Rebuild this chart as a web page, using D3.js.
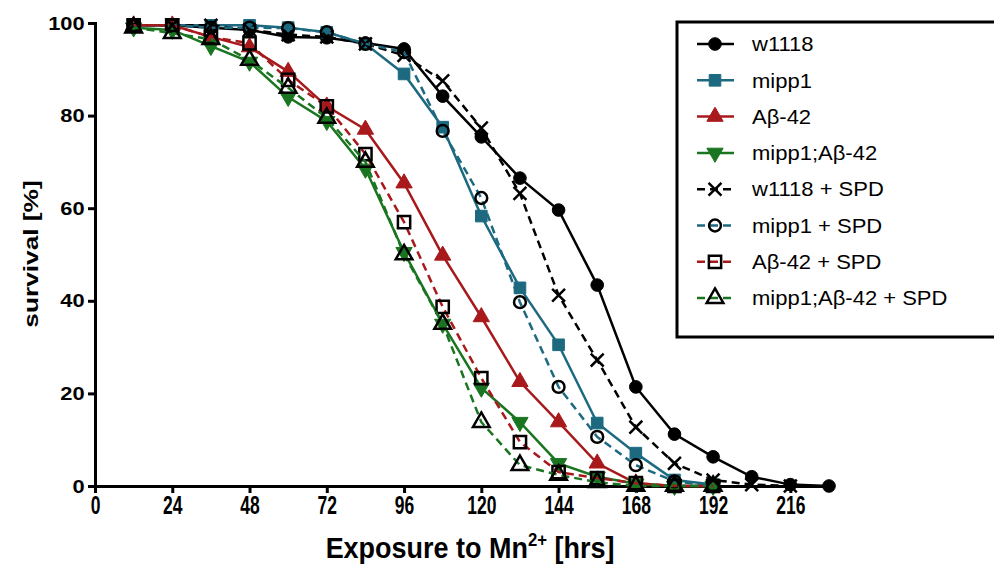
<!DOCTYPE html>
<html>
<head>
<meta charset="utf-8">
<script src="https://cdn.jsdelivr.net/npm/d3@7"></script>
<style>
  body { margin: 0; background: #fff; }
  svg { display: block; }
</style>
</head>
<body>
<div id="chart"></div>
<script>
// time points (hrs), every 12 h
const hours = [12, 24, 36, 48, 60, 72, 84, 96, 108, 120, 132, 144, 156, 168, 180, 192, 204, 216, 228];

// survival [%] per genotype
const w1118 = [99.5, 99.5, 99, 98.5, 97, 96.8, 95.7, 94.4, 84.2, 75.4, 66.5, 59.6, 43.4, 21.4, 11.2, 6.3, 2, 0.3, 0];
const mipp1 = [99.5, 99.5, 99.5, 99.5, 99, 98, 95.5, 89, 77.5, 58.3, 42.8, 30.5, 13.6, 7.1, 1.3, 0.3];
const abeta42 = [99.5, 99.5, 97, 94.8, 89.5, 82, 77, 65.4, 49.8, 36.5, 22.5, 13.8, 4.9, 0.6, 0, 0];
const mipp1Abeta42 = [99, 98.5, 95, 91.6, 84, 78.8, 68.5, 50.5, 35, 21.2, 13.8, 4.9, 2, 0.5, 0, 0];
const w1118Spd = [99.5, 99.5, 99.5, 98.5, 97.5, 97, 95.5, 93, 87.5, 77.3, 63.2, 41.2, 27.2, 12.7, 4.9, 1.3, 0.3, 0];
const mipp1Spd = [99.5, 99.5, 99, 99, 98.9, 98, 95.5, 93.7, 76.7, 62.2, 39.7, 21.4, 10.6, 4.5, 1, 0];
const abeta42Spd = [99.5, 99.5, 97, 95.6, 87.7, 82, 71.7, 57, 38.7, 23.3, 9.5, 3, 1.7, 0.6, 0, 0];
const mipp1Abeta42Spd = [99, 97.8, 96.5, 92, 86, 79.5, 70, 50, 35, 13.8, 4.5, 2.4, 0.8, 0, 0, 0];

const seriesNames = ["w1118", "mipp1", "A\u03b2-42", "mipp1;A\u03b2-42",
  "w1118 + SPD", "mipp1 + SPD", "A\u03b2-42 + SPD", "mipp1;A\u03b2-42 + SPD"];
const seriesValues = [w1118, mipp1, abeta42, mipp1Abeta42, w1118Spd, mipp1Spd, abeta42Spd, mipp1Abeta42Spd];

const xTicks = [0, 24, 48, 72, 96, 120, 144, 168, 192, 216];
const yTicks = [0, 20, 40, 60, 80, 100];

const config = {
  width: 994,
  height: 570,
};

const { width, height } = config;

const black = "#000";
const teal = "#1d6a80";
const red = "#a8191c";
const green = "#1a7520";

// style per series: line colour, dash, marker symbol, marker fill/stroke
const styles = [
  { color: black, dash: null, symbol: d3.symbolCircle, size: 125, fill: black, stroke: black },
  { color: teal, dash: null, symbol: d3.symbolSquare, size: 135, fill: teal, stroke: teal },
  { color: red, dash: null, symbol: d3.symbolTriangle, size: 115, fill: red, stroke: red },
  { color: green, dash: null, symbol: "down", size: 115, fill: green, stroke: green },
  { color: black, dash: "8,5", symbol: d3.symbolTimes, size: 110, fill: "none", stroke: black },
  { color: teal, dash: "8,5", symbol: d3.symbolCircle, size: 110, fill: "none", stroke: black },
  { color: red, dash: "8,5", symbol: d3.symbolSquare, size: 150, fill: "none", stroke: black },
  { color: green, dash: "8,5", symbol: d3.symbolTriangle, size: 120, fill: "none", stroke: black },
];

const series = seriesNames.map((name, i) => ({
  name,
  style: styles[i],
  points: seriesValues[i].map((v, j) => ({ t: hours[j], v })),
}));

const svg = d3
  .select("#chart")
  .append("svg")
  .attr("width", width)
  .attr("height", height);

const xScale = d3.scaleLinear().domain([0, 228]).range([95, 829]);
const yScale = d3.scaleLinear().domain([0, 100]).range([486, 23]);

function markerPath(st) {
  if (st.symbol === "down") {
    return d3.symbol(d3.symbolTriangle, st.size)();
  }
  return d3.symbol(st.symbol, st.size)();
}

// axes
const yAxis = svg
  .append("g")
  .attr("transform", `translate(${xScale(0)},0)`)
  .call(d3.axisLeft(yScale).tickValues(yTicks).tickSize(7).tickPadding(2).tickSizeOuter(0));

const xAxis = svg
  .append("g")
  .attr("transform", `translate(0,${yScale(0)})`)
  .call(d3.axisBottom(xScale).tickValues(xTicks).tickSize(7).tickPadding(3).tickSizeOuter(0));

[xAxis, yAxis].forEach((ax) => {
  ax.selectAll("path, line").attr("stroke", black).attr("stroke-width", 3);
  ax.select(".domain").attr("stroke-linecap", "square");
});

yAxis
  .selectAll("text")
  .attr("fill", black)
  .attr("transform", "scale(1.15,1)")
  .style("font-family", "'Liberation Sans', Arial, sans-serif")
  .style("font-weight", "bold")
  .style("font-size", "19px");

xAxis
  .selectAll("text")
  .attr("fill", black)
  .attr("transform", "scale(0.7,1)")
  .style("font-family", "'Liberation Sans', Arial, sans-serif")
  .style("font-weight", "bold")
  .style("font-size", "25px");

// axis titles
svg
  .append("text")
  .attr("transform", `translate(38,254) rotate(-90) scale(1.25,1)`)
  .attr("text-anchor", "middle")
  .style("font-family", "'Liberation Sans', Arial, sans-serif")
  .style("font-weight", "bold")
  .style("font-size", "21px")
  .text("survival [%]");

const xTitle = svg
  .append("text")
  .attr("transform", "translate(470,558) scale(0.93,1)")
  .attr("text-anchor", "middle")
  .style("font-family", "'Liberation Sans', Arial, sans-serif")
  .style("font-weight", "bold")
  .style("font-size", "29px");
xTitle.append("tspan").text("Exposure to Mn");
xTitle.append("tspan").attr("dy", -12).style("font-size", "18px").text("2+");
xTitle.append("tspan").attr("dy", 12).text(" [hrs]");

// lines
const line = d3
  .line()
  .x((d) => xScale(d.t))
  .y((d) => yScale(d.v));

const groups = svg
  .selectAll(".series")
  .data(series)
  .join("g")
  .attr("class", "series");

groups
  .append("path")
  .attr("d", (d) => line(d.points))
  .attr("fill", "none")
  .attr("stroke", (d) => d.style.color)
  .attr("stroke-width", 2.5)
  .attr("stroke-dasharray", (d) => d.style.dash);

groups.each(function (s) {
  d3.select(this)
    .selectAll(".pt")
    .data(s.points)
    .join("path")
    .attr("class", "pt")
    .attr("transform", (d) =>
      `translate(${xScale(d.t)},${yScale(d.v)})` + (s.style.symbol === "down" ? " rotate(180)" : "")
    )
    .attr("d", markerPath(s.style))
    .attr("fill", s.style.fill)
    .attr("stroke", s.style.stroke)
    .attr("stroke-width", s.style.fill === "none" ? 2.5 : 1);
});

// legend
const legend = svg.append("g").attr("transform", "translate(677,22)");

legend
  .append("rect")
  .attr("x", 0)
  .attr("y", 0)
  .attr("width", 340)
  .attr("height", 315)
  .attr("fill", "#fff")
  .attr("stroke", black)
  .attr("stroke-width", 3);

const rows = legend
  .selectAll(".row")
  .data(series)
  .join("g")
  .attr("class", "row")
  .attr("transform", (d, i) => `translate(0,${22 + i * 36.3})`);

rows
  .append("line")
  .attr("x1", 20)
  .attr("x2", 57)
  .attr("stroke", (d) => d.style.color)
  .attr("stroke-width", 2.5)
  .attr("stroke-dasharray", (d) => (d.style.dash ? "8,5" : null));

rows
  .append("path")
  .attr("transform", (d) => "translate(38,0)" + (d.style.symbol === "down" ? " rotate(180)" : ""))
  .attr("d", (d) => markerPath(d.style))
  .attr("fill", (d) => d.style.fill)
  .attr("stroke", (d) => d.style.stroke)
  .attr("stroke-width", (d) => (d.style.fill === "none" ? 2.5 : 1));

rows
  .append("text")
  .attr("transform", "translate(75,0) scale(1.1,1)")
  .attr("dy", "0.36em")
  .style("font-family", "'Liberation Sans', Arial, sans-serif")
  .style("font-size", "20px")
  .attr("fill", black)
  .text((d) => d.name);
</script>
</body>
</html>
